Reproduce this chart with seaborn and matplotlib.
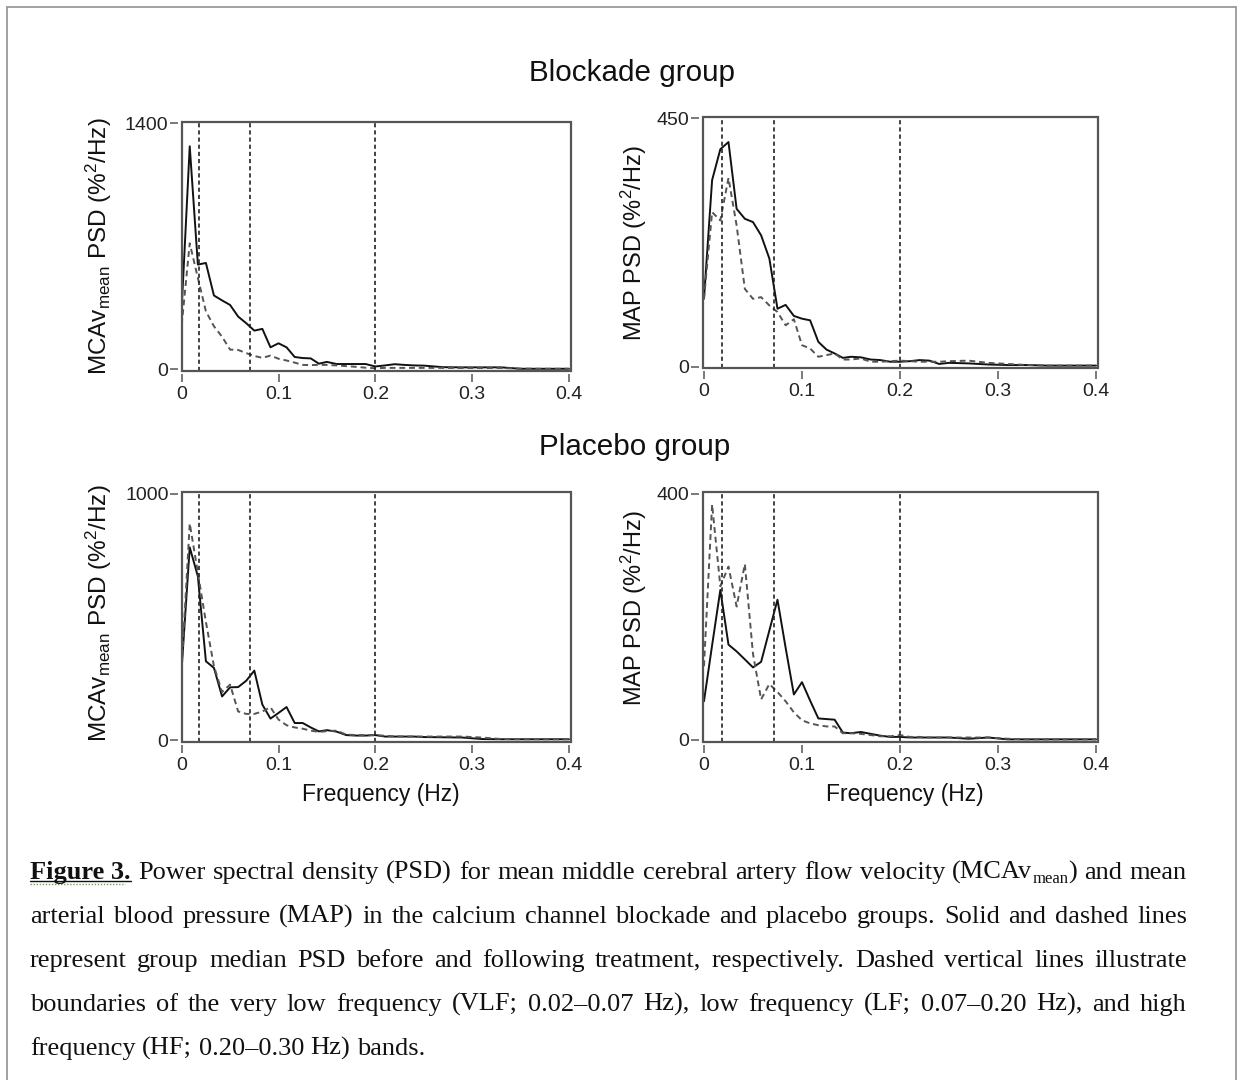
import numpy as np
import pandas as pd
import matplotlib
matplotlib.use('Agg')
import matplotlib.pyplot as plt
import seaborn as sns
from matplotlib.lines import Line2D
from matplotlib.patches import Rectangle

# frequency bins (Hz)
freq = [0, 0.0083, 0.0167, 0.025, 0.0333, 0.0417, 0.05, 0.0583, 0.0667, 0.075,
        0.0833, 0.0917, 0.1, 0.1083, 0.1167, 0.125, 0.1333, 0.1417,
        0.15, 0.16, 0.17, 0.18, 0.19, 0.2, 0.21, 0.22, 0.23, 0.24, 0.25,
        0.27, 0.29, 0.31, 0.33, 0.35, 0.37, 0.4]

# Blockade group
blk_mca_pre = [349, 1269, 596, 605, 420, 392, 366, 300, 262, 220, 230, 125, 148, 125, 70, 64, 62, 32,
               42, 30, 30, 30, 30, 16, 22, 29, 25, 22, 21, 12, 11, 11, 11, 3, 3, 3]
blk_mca_post = [254, 717, 520, 330, 245, 185, 112, 110, 92, 76, 65, 78, 60, 50, 38, 25, 24, 25,
                25, 22, 18, 14, 9, 6, 8, 8, 8, 8, 8, 8, 7, 7, 7, 4, 3, 3]
blk_map_pre = [123, 338, 394, 407, 286, 268, 262, 238, 196, 105, 112, 92, 87, 84, 45, 31, 24, 16,
               18, 17, 13, 12, 9, 9, 10, 12, 11, 5, 7, 6, 4, 3, 3, 2, 2, 2]
blk_map_post = [123, 280, 265, 342, 256, 141, 123, 126, 111, 99, 75, 86, 39, 33, 18, 21, 24, 13,
                13, 15, 9, 9, 10, 11, 10, 9, 9, 9, 10, 11, 7, 5, 3, 2, 2, 2]

# Placebo group
plc_mca_pre = [293, 783, 665, 320, 293, 177, 214, 215, 241, 282, 144, 87, 110, 134, 69, 69, 51, 35,
               40, 34, 20, 18, 18, 20, 14, 14, 14, 14, 12, 11, 10, 4, 3, 3, 3, 3]
plc_mca_post = [300, 880, 680, 480, 300, 195, 225, 116, 106, 106, 116, 133, 83, 60, 51, 46, 38, 33,
                36, 38, 22, 20, 20, 20, 17, 15, 14, 14, 14, 14, 14, 10, 4, 3, 3, 3]
plc_map_pre = [63, 154, 244, 155, 144, 131, 118, 127, 178, 228, 150, 74, 94, 64, 35, 34, 33, 12,
               11, 13, 10, 7, 5, 5, 4, 4, 4, 4, 4, 2, 4, 1, 1, 1, 1, 1]
plc_map_post = [120, 383, 250, 282, 217, 286, 140, 66, 91, 78, 63, 45, 32, 27, 24, 22, 22, 11,
                11, 10, 8, 6, 6, 8, 5, 5, 4, 4, 4, 4, 4, 2, 1, 1, 1, 1]

band_edges = [0.018, 0.071, 0.2]
xticks = [0, 0.1, 0.2, 0.3, 0.4]
xticklabels = ['0', '0.1', '0.2', '0.3', '0.4']

mca_label = r'MCAv$_{\mathregular{mean}}$ PSD (%$^{\mathregular{2}}$/Hz)'
map_label = r'MAP PSD (%$^{\mathregular{2}}$/Hz)'

caption_lines = [
    ['Figure 3.', 'Power', 'spectral', 'density', '(PSD)', 'for', 'mean', 'middle', 'cerebral',
     'artery', 'flow', 'velocity', '(MCAv_mean)', 'and', 'mean'],
    'arterial blood pressure (MAP) in the calcium channel blockade and placebo groups. Solid and dashed lines'.split(),
    'represent group median PSD before and following treatment, respectively. Dashed vertical lines illustrate'.split(),
    'boundaries of the very low frequency (VLF; 0.02\u20130.07 Hz), low frequency (LF; 0.07\u20130.20 Hz), and high'.split(),
    'frequency (HF; 0.20\u20130.30 Hz) bands.'.split(),
]

sns.set_theme(style='white')
plt.rcParams['font.family'] = ['Liberation Sans', 'DejaVu Sans']
plt.rcParams['mathtext.default'] = 'regular'

W, H = 1243, 1080
fig = plt.figure(figsize=(W / 100, H / 100), dpi=100)
fig.patch.set_facecolor('white')


def fx(px):
    return px / W


def fy(py):
    return 1 - py / H


panels = [
    dict(box=(181.7, 121.7, 570.7, 370.7), xlim=(0, 0.4018), ylim=(-8, 1409), ymax=1400,
         pre=blk_mca_pre, post=blk_mca_post, ylabel=mca_label, lab=(-0.2126, 0.50), xlab=False),
    dict(box=(702.7, 116.7, 1098, 367.7), xlim=(-0.0013, 0.402), ylim=(-1.8, 452.9), ymax=450,
         pre=blk_map_pre, post=blk_map_post, ylabel=map_label, lab=(-0.174, 0.497), xlab=False),
    dict(box=(181.7, 491.7, 570.7, 741.7), xlim=(0, 0.4018), ylim=(-6.9, 1009), ymax=1000,
         pre=plc_mca_pre, post=plc_mca_post, ylabel=mca_label, lab=(-0.2126, 0.515), xlab=True),
    dict(box=(702.7, 491.7, 1098, 741.7), xlim=(-0.0013, 0.402), ylim=(-2.8, 403.7), ymax=400,
         pre=plc_map_pre, post=plc_map_post, ylabel=map_label, lab=(-0.174, 0.535), xlab=True),
]

for p in panels:
    l, t, r, b = p['box']
    ax = fig.add_axes([fx(l), fy(b), (r - l) / W, (b - t) / H])
    df = pd.DataFrame({'freq': freq, 'pre': p['pre'], 'post': p['post']})
    sns.lineplot(data=df, x='freq', y='pre', ax=ax, color='#111111', linewidth=1.4)
    sns.lineplot(data=df, x='freq', y='post', ax=ax, color='#555555', linewidth=1.4,
                 linestyle=(0, (3, 2)))
    for edge in band_edges:
        ax.axvline(edge, color='#222222', linewidth=1.2, linestyle=(0, (2.5, 1.8)))
    ax.set_xlim(*p['xlim'])
    ax.set_ylim(*p['ylim'])
    ax.set_xticks(xticks)
    ax.set_xticklabels(xticklabels)
    ax.set_yticks([0, p['ymax']])
    ax.set_yticklabels(['0', str(p['ymax'])])
    ax.set_xlabel('')
    ax.set_ylabel('')
    for s in ax.spines.values():
        s.set_visible(False)
    ax.spines['left'].set_position(('outward', 2.5))
    ax.spines['bottom'].set_position(('outward', 2.5))
    ax.add_patch(Rectangle((0, 0), 1, 1, transform=ax.transAxes, fill=False,
                           edgecolor='#555555', linewidth=1.6, clip_on=False, zorder=5))
    ax.tick_params(direction='out', length=5.5, width=1.1, color='#555555',
                   labelsize=14, labelcolor='#222222', left=True, bottom=True)
    ax.tick_params(axis='y', pad=1.5)
    ax.tick_params(axis='x', pad=3)
    ax.text(p['lab'][0], p['lab'][1], p['ylabel'], rotation=90, ha='center', va='center',
            fontsize=17.5 if p['ylabel'] == mca_label else 17, color='#111111',
            transform=ax.transAxes)
    if p['xlab']:
        ax.text(0.512, -0.213, 'Frequency (Hz)', ha='center', va='center', fontsize=16.5,
                color='#111111', transform=ax.transAxes)

fig.text(fx(632), fy(73), 'Blockade group', ha='center', va='center', fontsize=21.3, color='#111111')
fig.text(fx(635), fy(447), 'Placebo group', ha='center', va='center', fontsize=21.3, color='#111111')

# outer frame
frame_kw = dict(color='#9a9a9a', linewidth=1.3, transform=fig.transFigure)
fig.add_artist(Line2D([fx(7), fx(7)], [fy(7), 0], **frame_kw))
fig.add_artist(Line2D([fx(7), fx(1236)], [fy(7), fy(7)], **frame_kw))
fig.add_artist(Line2D([fx(1236), fx(1236)], [fy(7), 0], **frame_kw))

# justified caption
renderer = fig.canvas.get_renderer()
serif = ['Liberation Serif', 'DejaVu Serif']
cap_size = 19
left_px, right_px = 30, 1187
baselines = [879, 923, 967, 1011, 1055]


def make_word(tok):
    if tok == 'Figure 3.':
        return [(tok, cap_size, 'bold', 0)]
    if '_' in tok:
        a, b = tok.split('_')
        return [(a, cap_size, 'normal', 0), (b.rstrip(')'), 12, 'normal', 4),
                (')', cap_size, 'normal', 0)]
    return [(tok, cap_size, 'normal', 0)]


for i, line in enumerate(caption_lines):
    base = baselines[i]
    words = []
    for tok in line:
        parts = []
        for txt, size, weight, dy in make_word(tok):
            t = fig.text(0, fy(base + dy), txt, fontsize=size, fontweight=weight, family=serif,
                         color='#111111', va='baseline', ha='left')
            parts.append((t, t.get_window_extent(renderer).width, dy))
        words.append((tok, parts))
    widths = [sum(w for _, w, _ in parts) for _, parts in words]
    if i < len(caption_lines) - 1:
        gap = (right_px - left_px - sum(widths)) / (len(words) - 1)
    else:
        gap = 6.6
    x = left_px
    for (tok, parts), wsum in zip(words, widths):
        x0 = x
        for t, w, dy in parts:
            t.set_position((fx(x), fy(base + dy)))
            x += w
        if tok == 'Figure 3.':
            fig.add_artist(Line2D([fx(x0), fx(x)], [fy(base + 2), fy(base + 2)],
                                  color='#111111', linewidth=1.0, transform=fig.transFigure))
            fig.add_artist(Line2D([fx(x0), fx(x - 6)], [fy(base + 4.5), fy(base + 4.5)],
                                  color='#6aa84f', linewidth=1.0, linestyle=(0, (1, 1.2)),
                                  transform=fig.transFigure))
        x = x0 + wsum + gap

fig.savefig('out.png', dpi=100, facecolor='white')
